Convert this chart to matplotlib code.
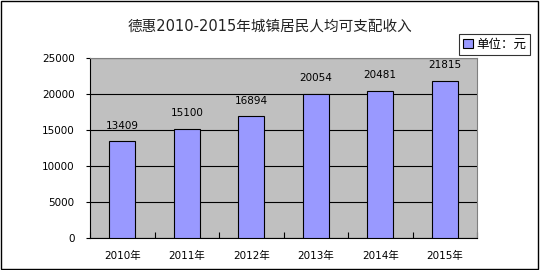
import matplotlib.pyplot as plt
import numpy as np

plt.rcParams['font.family'] = ['DejaVu Sans', 'Noto Sans CJK SC']

years = ['2010年', '2011年', '2012年', '2013年', '2014年', '2015年']
income = [13409, 15100, 16894, 20054, 20481, 21815]
yticks = [0, 5000, 10000, 15000, 20000, 25000]

fig = plt.figure(figsize=(5.4, 2.7), dpi=100)
ax = fig.add_axes([90 / 540, 32 / 270, 387 / 540, 180 / 270])
ax.set_facecolor('#C0C0C0')

x = np.arange(len(years))
ax.bar(x, income, width=0.4, color='#9999FF', edgecolor='black', linewidth=0.8,
       label='单位：元', zorder=3)
for xi, v in zip(x, income):
    ax.text(xi, v + 1500, str(v), ha='center', va='bottom', fontsize=7.5, zorder=4)

ax.set_xlim(-0.5, len(years) - 0.5)
ax.set_ylim(0, 25000)
ax.set_yticks(yticks)
ax.yaxis.grid(True, color='black', linewidth=0.8, zorder=1)
ax.set_axisbelow(True)
ax.set_xticks(x)
ax.set_xticklabels(years, fontsize=7.5)
ax.set_xticks(np.arange(len(years) + 1) - 0.5, minor=True)
ax.tick_params(axis='x', which='major', length=0, pad=9)
ax.tick_params(axis='x', which='minor', direction='in', length=4, width=0.8)
ax.tick_params(axis='y', direction='out', length=3, width=0.8, labelsize=7.5, pad=8)
ax.spines['top'].set_color('#808080')
ax.spines['right'].set_color('#808080')
for s in ['left', 'bottom']:
    ax.spines[s].set_linewidth(0.8)

fig.suptitle('德惠2010-2015年城镇居民人均可支配收入', fontsize=10.5, y=0.93, color='#222222')

leg = fig.legend(loc='upper left', bbox_to_anchor=(459 / 540, 1 - 34 / 270), fontsize=9,
                 frameon=True, fancybox=False, edgecolor='black', handlelength=0.8,
                 handleheight=0.8, handletextpad=0.3, borderpad=0.3, borderaxespad=0)
leg.get_frame().set_linewidth(0.8)

fig.patches.append(plt.Rectangle((0.002, 0.004), 0.994, 0.992, transform=fig.transFigure,
                                 fill=False, edgecolor='black', linewidth=1))

fig.savefig('out.png', dpi=100)
